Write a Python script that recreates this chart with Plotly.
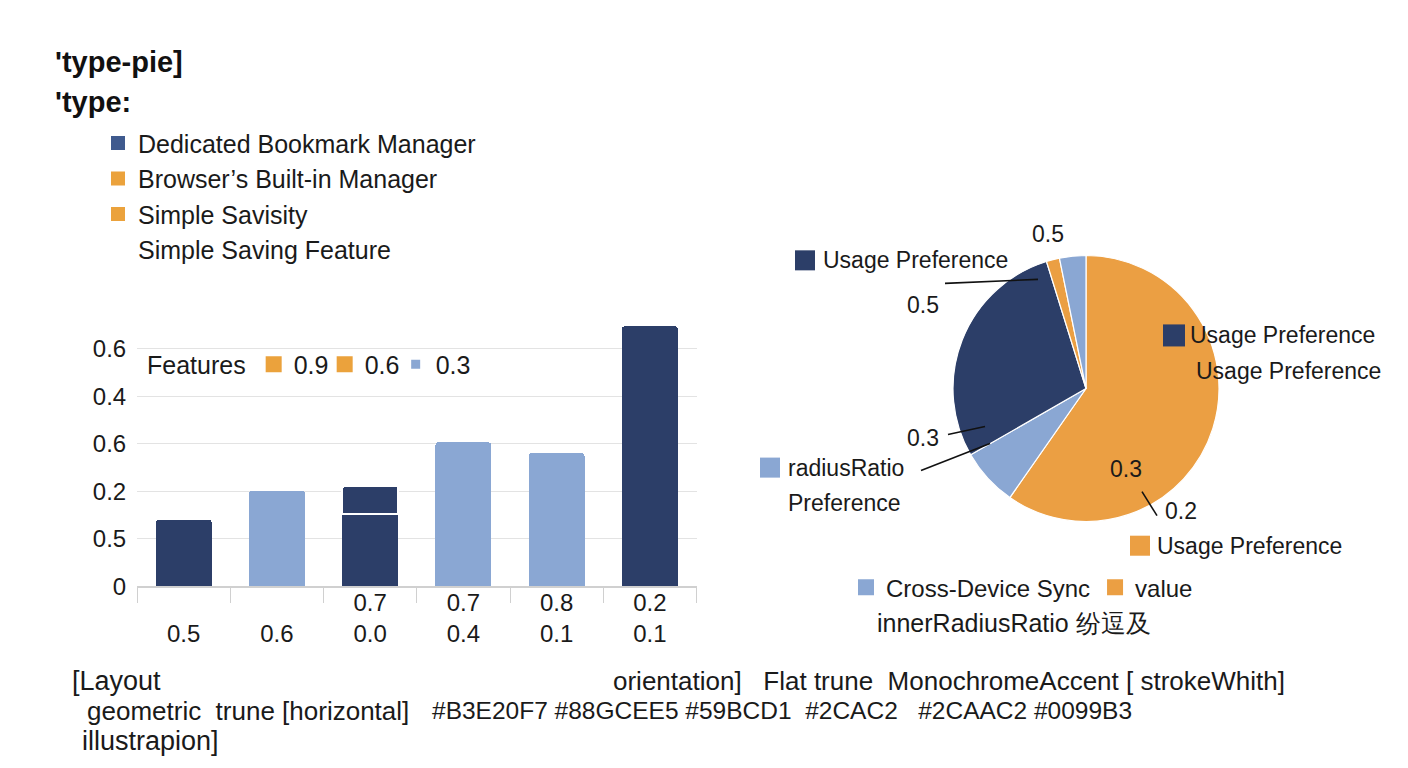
import plotly.graph_objects as go

W = 1408
H_REF = 768          # coordinate space of the reference picture
H = 782              # figure height (screen shot is compressed ~0.982 vertically)

# ---------------- data ----------------
bar_categories = ["<br>0.5", "<br>0.6", "0.7<br>0.0", "0.7<br>0.4", "0.8<br>0.1", "0.2<br>0.1"]
navy_base = [1.40, None, 1.52, None, None, 5.47]
light_vals = [None, 2.01, None, 3.03, 2.80, None]
navy_top = [None, None, 0.60, None, None, None]
y_tickvals = [0, 1, 2, 3, 4, 5]
y_ticktext = ["0", "0.5", "0.2", "0.6", "0.4", "0.6"]

features_legend = ["0.9", "0.6", "0.3", " "]
top_legend = ["Dedicated Bookmark Manager", "Browser\u2019s Built-in Manager", "Simple Savisity", "Simple Saving Feature"]

pie_labels = ["Usage Preference A", "Cross-Device Sync", "Usage Preference B", "value", "Preference"]
pie_values = [59.7, 7.0, 28.5, 1.6, 3.2]

pie_legend = ["Cross-Device Sync", "value"]

# ---------------- colours ----------------
NAVY = "#2C3E68"
LIGHT = "#8AA7D3"
ORANGE = "#EB9F43"
LEG_NAVY = "#3F5A8E"
LEG_ORANGE = "#EBA23C"
FONT = "Liberation Sans, Arial, sans-serif"
TXT = "#1a1a1a"


def px(x):
    return x / W


def py(y):
    return 1 - y / H_REF


fig = go.Figure()

# ---------------- bars ----------------
fig.add_trace(go.Bar(x=bar_categories, y=navy_base, marker=dict(color=NAVY, line=dict(width=0)),
                     showlegend=False, hoverinfo="skip"))
fig.add_trace(go.Bar(x=bar_categories, y=light_vals, marker=dict(color=LIGHT, line=dict(width=0)),
                     showlegend=False, hoverinfo="skip"))
fig.add_trace(go.Bar(x=bar_categories, y=navy_top, marker=dict(color=NAVY, line=dict(width=2, color="white")),
                     showlegend=False, hoverinfo="skip"))

# Features legend (legend2); last entry is an empty spacer so "0.3" is not clipped
feat_colors = [LEG_ORANGE, LEG_ORANGE, LIGHT, "rgba(0,0,0,0)"]
feat_sizes = [16, 16, 9, 9]
for name, c, s in zip(features_legend, feat_colors, feat_sizes):
    fig.add_trace(go.Scatter(x=[None], y=[None], mode="markers", name=name,
                             marker=dict(symbol="square", color=c, size=s),
                             legend="legend2", showlegend=True))

# top-left legend (legend)
top_colors = [LEG_NAVY, LEG_ORANGE, LEG_ORANGE, "rgba(0,0,0,0)"]
for name, c in zip(top_legend, top_colors):
    fig.add_trace(go.Scatter(x=[None], y=[None], mode="markers", name=name,
                             marker=dict(symbol="square", color=c, size=14),
                             legend="legend", showlegend=True))

# pie bottom legend (legend3)
for name, c in zip(pie_legend, [LIGHT, ORANGE]):
    fig.add_trace(go.Scatter(x=[None], y=[None], mode="markers", name=name,
                             marker=dict(symbol="square", color=c, size=16),
                             legend="legend3", showlegend=True))

# ---------------- pie ----------------
cx, cy, r = 1086, 388, 133
fig.add_trace(go.Pie(labels=pie_labels, values=pie_values, sort=False, direction="clockwise",
                     rotation=0, textinfo="none", hoverinfo="skip", showlegend=False,
                     marker=dict(colors=[ORANGE, LIGHT, NAVY, ORANGE, LIGHT],
                                 line=dict(color="white", width=1.2)),
                     domain=dict(x=[px(cx - r), px(cx + r)], y=[py(cy + r), py(cy - r)])))

# ---------------- layout ----------------
fig.update_layout(
    width=W, height=H, autosize=False,
    margin=dict(l=0, r=0, t=0, b=0),
    paper_bgcolor="white", plot_bgcolor="white",
    font=dict(family=FONT, color=TXT),
    barmode="stack", bargap=0.40, barcornerradius=3,
    xaxis=dict(domain=[px(137), px(696.5)], type="category",
               showgrid=False, showline=True, linecolor="#D0D0D0", linewidth=1.5,
               ticks="outside", tickson="boundaries", ticklen=15, tickcolor="#D0D0D0",
               tickwidth=1.2, ticklabelstandoff=-6,
               tickfont=dict(size=24, color=TXT, family=FONT)),
    yaxis=dict(domain=[py(585.7), py(585.7 - 5.6 * 47.5)], range=[0, 5.6],
               tickvals=y_tickvals, ticktext=y_ticktext,
               showgrid=True, gridcolor="#E3E3E3", gridwidth=1.2, zeroline=False,
               showline=False, ticks="outside", ticklen=5, tickcolor="rgba(0,0,0,0)",
               tickfont=dict(size=24, color=TXT, family=FONT)),
    legend=dict(x=px(98), y=py(120), xanchor="left", yanchor="top",
                orientation="v", bgcolor="rgba(0,0,0,0)", traceorder="normal",
                font=dict(size=25, color=TXT, family=FONT), itemclick=False),
    legend2=dict(x=px(145), y=py(364), xanchor="left", yanchor="middle",
                 orientation="h", bgcolor="rgba(0,0,0,0)", traceorder="normal",
                 entrywidth=26, entrywidthmode="pixels",
                 title=dict(text="Features", side="left", font=dict(size=25, color=TXT)),
                 font=dict(size=25, color=TXT, family=FONT), itemclick=False),
    legend3=dict(x=px(846), y=py(587), xanchor="left", yanchor="middle",
                 orientation="h", bgcolor="rgba(0,0,0,0)", traceorder="normal",
                 font=dict(size=24, color=TXT, family=FONT), itemclick=False),
)

# ---------------- text annotations ----------------
annots = []


def txt(x, y, text, size=23, bold=False, anchor="left"):
    t = f"<b>{text}</b>" if bold else text
    annots.append(dict(x=px(x), y=py(y), xref="paper", yref="paper", text=t, showarrow=False,
                       xanchor=anchor, yanchor="middle",
                       font=dict(size=size, color="#111111" if bold else TXT, family=FONT)))


txt(53, 62, "'type-pie]", size=29, bold=True)
txt(53, 102, "'type:", size=29, bold=True)

# pie callouts
txt(1048, 234, "0.5", anchor="center")
txt(821, 260, "Usage Preference")
txt(905, 305, "0.5")
txt(1188, 335, "Usage Preference")
txt(1194, 371, "Usage Preference")
txt(905, 437, "0.3")
txt(786, 467, "radiusRatio")
txt(786, 502, "Preference")
txt(1108, 468, "0.3")
txt(1163, 510, "0.2")
txt(1155, 545, "Usage Preference")
txt(875, 622, "innerRadiusRatio \u7eb7\u9017\u53ca", size=25)

# bottom notes
txt(70, 680, "[Layout", size=27)
txt(611, 680, "orientation]&nbsp;&nbsp; Flat trune&nbsp; MonochromeAccent [ strokeWhith]", size=26)
txt(85, 710, "geometric&nbsp; trune [horizontal]", size=26)
txt(430, 710, "#B3E20F7 #88GCEE5 #59BCD1&nbsp; #2CAC2&nbsp;&nbsp; #2CAAC2 #0099B3", size=24.5)
txt(80, 740, "illustrapion]", size=27)

fig.update_layout(annotations=annots)

# ---------------- callout squares and leader lines ----------------
shapes = []


def square(x0, y0, size, color):
    shapes.append(dict(type="rect", xref="paper", yref="paper", x0=px(x0), x1=px(x0 + size),
                       y0=py(y0 + size), y1=py(y0), fillcolor=color, line=dict(width=0)))


def line(x0, y0, x1, y1):
    shapes.append(dict(type="line", xref="paper", yref="paper", x0=px(x0), y0=py(y0),
                       x1=px(x1), y1=py(y1), line=dict(color="#111111", width=1.6)))


square(795, 250, 20, NAVY)
square(1163, 324, 22, NAVY)
square(760, 457, 20, LIGHT)
square(1130, 535, 20, ORANGE)

line(945, 283, 1038, 279)
line(948, 434, 985, 426)
line(921, 470, 990, 443)
line(1142, 491, 1157, 515)

fig.update_layout(shapes=shapes)

fig.write_html("out.html")
